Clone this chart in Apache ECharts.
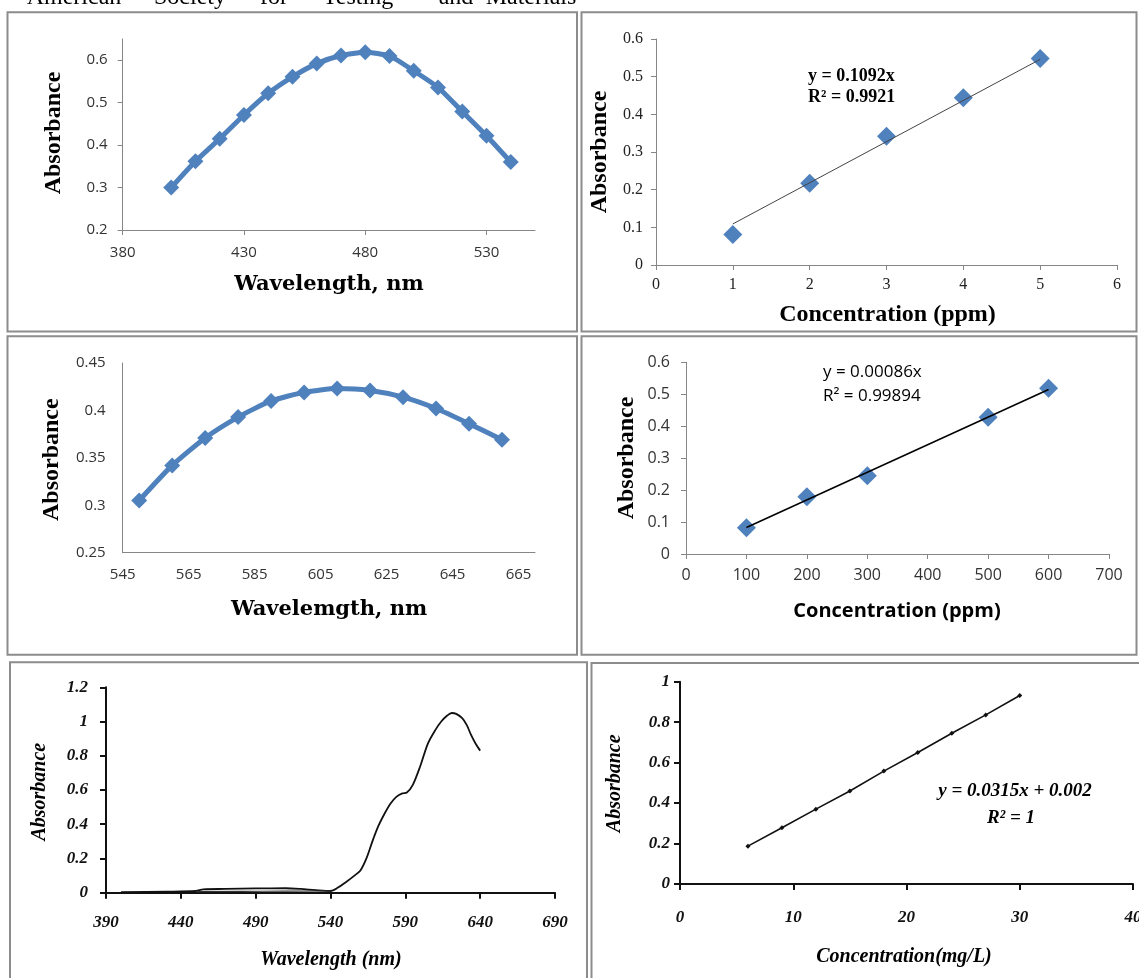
<!DOCTYPE html>
<html>
<head>
<meta charset="utf-8">
<title>Absorbance spectra and calibration curves</title>
<script src="https://cdn.jsdelivr.net/npm/echarts@6/dist/echarts.min.js"></script>
<style>
html, body { margin: 0; padding: 0; background: #fff; }
#main { width: 1139px; height: 978px; }
</style>
</head>
<body>
<div id="main"></div>
<script>
// ---- panel 1 : spectrum, 400-540 nm
var wl1 = [400, 410, 420, 430, 440, 450, 460, 470, 480, 490, 500, 510, 520, 530, 540];
var abs1 = [0.300, 0.362, 0.415, 0.471, 0.522, 0.561, 0.592, 0.611, 0.619, 0.610, 0.575, 0.536, 0.479, 0.422, 0.360];
var xTicks1 = [380, 430, 480, 530];
var yTicks1 = [0.2, 0.3, 0.4, 0.5, 0.6];

// ---- panel 2 : calibration (ppm)
var conc2 = [1, 2, 3, 4, 5];
var abs2 = [0.081, 0.217, 0.342, 0.444, 0.548];
var trend2 = [[1, 0.109], [5, 0.546]];
var xTicks2 = [0, 1, 2, 3, 4, 5, 6];
var yTicks2 = [0, 0.1, 0.2, 0.3, 0.4, 0.5, 0.6];

// ---- panel 3 : spectrum, 550-660 nm
var wl3 = [550, 560, 570, 580, 590, 600, 610, 620, 630, 640, 650, 660];
var abs3 = [0.305, 0.342, 0.371, 0.393, 0.410, 0.419, 0.423, 0.421, 0.414, 0.402, 0.386, 0.369];
var xTicks3 = [545, 565, 585, 605, 625, 645, 665];
var yTicks3 = [0.25, 0.3, 0.35, 0.4, 0.45];

// ---- panel 4 : calibration (ppm)
var conc4 = [100, 200, 300, 500, 600];
var abs4 = [0.082, 0.179, 0.245, 0.428, 0.519];
var trend4 = [[100, 0.083], [600, 0.515]];
var xTicks4 = [0, 100, 200, 300, 400, 500, 600, 700];
var yTicks4 = [0, 0.1, 0.2, 0.3, 0.4, 0.5, 0.6];

// ---- panel 5 : scanned spectrum
var wl5 = [400, 430, 450, 455, 470, 490, 510, 520, 530, 540, 545, 550, 556, 560, 564, 568, 572, 576, 580, 584, 588, 591, 595, 600, 605, 610, 614, 618, 621, 624, 628, 631, 634, 637, 640];
var abs5 = [0.003, 0.006, 0.010, 0.020, 0.022, 0.025, 0.026, 0.022, 0.015, 0.010, 0.030, 0.060, 0.100, 0.130, 0.200, 0.300, 0.390, 0.460, 0.520, 0.560, 0.580, 0.585, 0.630, 0.740, 0.870, 0.950, 1.000, 1.035, 1.050, 1.045, 1.020, 0.980, 0.920, 0.870, 0.830];
var wlBlank5 = [450, 480, 510, 540];
var absBlank5 = [0.006, 0.008, 0.009, 0.010];
var xTicks5 = [390, 440, 490, 540, 590, 640, 690];
var yTicks5 = [0, 0.2, 0.4, 0.6, 0.8, 1, 1.2];

// ---- panel 6 : calibration (mg/L)
var conc6 = [6, 9, 12, 15, 18, 21, 24, 27, 30];
var abs6 = [0.187, 0.278, 0.370, 0.460, 0.558, 0.650, 0.745, 0.836, 0.932];
var xTicks6 = [0, 10, 20, 30, 40];
var yTicks6 = [0, 0.2, 0.4, 0.6, 0.8, 1];

var serif = '"Liberation Serif", "Times New Roman", serif';
var cambria = '"DejaVu Serif", serif';
var sans = '"Open Sans", "Noto Sans", sans-serif';
var blue = '#4F81BD';
var gray = '#868686';

function pairs(xs, ys) {
	return xs.map(function (x, i) { return [x, ys[i]]; });
}

// one value axis, o holds the look of that panel
function valAxis(grid, min, max, interval, ticks, o) {
	return {
		type: 'value', gridIndex: grid, min: min, max: max, interval: interval,
		splitLine: { show: false },
		axisLine: { show: true, onZero: false, lineStyle: { color: o.color, width: o.width } },
		axisTick: {
			show: o.tick, inside: false, length: o.tickLen || 5, customValues: ticks,
			lineStyle: { color: o.color, width: o.width }
		},
		axisLabel: {
			customValues: ticks, margin: o.margin, color: o.labelColor,
			fontFamily: o.font, fontSize: o.size,
			fontWeight: o.weight || 'normal', fontStyle: o.style || 'normal',
			formatter: function (v) { return String(v); }
		}
	};
}

function txt(x, y, text, font, rot, align) {
	return {
		type: 'text', x: x, y: y, rotation: rot || 0, silent: true, z: 10,
		style: {
			text: text, font: font, fill: '#000',
			align: align || 'center', verticalAlign: 'middle',
			textAlign: align || 'center', textVerticalAlign: 'middle'
		}
	};
}

function box(x, y, w, h) {
	return {
		type: 'rect', silent: true, z: 0,
		shape: { x: x, y: y, width: w, height: h },
		style: { fill: 'none', stroke: '#8c8c8c', lineWidth: 2 }
	};
}

var excelSans = { color: gray, width: 1, tick: true, labelColor: '#333', font: sans, size: 15, margin: 15 };
var excelSansNoTick = Object.assign({}, excelSans, { tick: false });
var excelSerif = { color: gray, width: 1, tick: true, labelColor: '#222', font: serif, size: 16, margin: 13 };
var scanAxis = { color: '#111', width: 2, tick: true, tickLen: 6, labelColor: '#111', font: serif, size: 17, weight: 'bold', style: 'italic', margin: 18 };

var up = Math.PI / 2;

var option = {
	animation: false,
	backgroundColor: '#fff',
	grid: [
		{ left: 122.7, top: 39, width: 412.3, height: 191, outerBoundsMode: 'none', containLabel: false },
		{ left: 656, top: 39, width: 461, height: 226, outerBoundsMode: 'none', containLabel: false },
		{ left: 122.7, top: 363, width: 412.3, height: 189.7, outerBoundsMode: 'none', containLabel: false },
		{ left: 686, top: 362.3, width: 423, height: 191.7, outerBoundsMode: 'none', containLabel: false },
		{ left: 106, top: 687.3, width: 449, height: 205.4, outerBoundsMode: 'none', containLabel: false },
		{ left: 680, top: 681.7, width: 453, height: 202.3, outerBoundsMode: 'none', containLabel: false }
	],
	xAxis: [
		valAxis(0, 380, 550, 50, xTicks1, Object.assign({}, excelSans, { margin: 15 })),
		valAxis(1, 0, 6, 1, xTicks2, Object.assign({}, excelSerif, { margin: 12 })),
		valAxis(2, 545, 670, 20, xTicks3, Object.assign({}, excelSansNoTick, { margin: 15 })),
		valAxis(3, 0, 700, 100, xTicks4, Object.assign({}, excelSans, { size: 16, margin: 13 })),
		valAxis(4, 390, 690, 50, xTicks5, Object.assign({}, scanAxis, { margin: 21 })),
		valAxis(5, 0, 40, 10, xTicks6, Object.assign({}, scanAxis, { margin: 25 }))
	],
	yAxis: [
		valAxis(0, 0.2, 0.65, 0.1, yTicks1, excelSans),
		valAxis(1, 0, 0.6, 0.1, yTicks2, excelSerif),
		valAxis(2, 0.25, 0.45, 0.05, yTicks3, Object.assign({}, excelSansNoTick, { margin: 17 })),
		valAxis(3, 0, 0.6, 0.1, yTicks4, Object.assign({}, excelSans, { size: 16, margin: 16 })),
		valAxis(4, 0, 1.2, 0.2, yTicks5, Object.assign({}, scanAxis, { margin: 18 })),
		valAxis(5, 0, 1, 0.2, yTicks6, Object.assign({}, scanAxis, { margin: 10 }))
	],
	series: [
		{
			type: 'line', xAxisIndex: 0, yAxisIndex: 0, data: pairs(wl1, abs1),
			smooth: 0.2, symbol: 'diamond', symbolSize: 16,
			lineStyle: { color: blue, width: 5 }, itemStyle: { color: blue, opacity: 1 }
		},
		{
			type: 'scatter', xAxisIndex: 1, yAxisIndex: 1, data: pairs(conc2, abs2),
			symbol: 'diamond', symbolSize: 19, itemStyle: { color: blue, opacity: 1 }
		},
		{
			type: 'line', xAxisIndex: 1, yAxisIndex: 1, data: trend2, z: 5,
			symbol: 'none', lineStyle: { color: '#444', width: 1 }
		},
		{
			type: 'line', xAxisIndex: 2, yAxisIndex: 2, data: pairs(wl3, abs3),
			smooth: 0.2, symbol: 'diamond', symbolSize: 16,
			lineStyle: { color: blue, width: 5 }, itemStyle: { color: blue, opacity: 1 }
		},
		{
			type: 'scatter', xAxisIndex: 3, yAxisIndex: 3, data: pairs(conc4, abs4),
			symbol: 'diamond', symbolSize: 19, itemStyle: { color: blue, opacity: 1 }
		},
		{
			type: 'line', xAxisIndex: 3, yAxisIndex: 3, data: trend4, z: 5,
			symbol: 'none', lineStyle: { color: '#000', width: 1.5 }
		},
		{
			type: 'line', xAxisIndex: 4, yAxisIndex: 4, data: pairs(wl5, abs5),
			smooth: 0.3, symbol: 'none', lineStyle: { color: '#111', width: 1.8 }
		},
		{
			type: 'line', xAxisIndex: 4, yAxisIndex: 4, data: pairs(wlBlank5, absBlank5),
			smooth: true, symbol: 'none', lineStyle: { color: '#333', width: 1.2 }
		},
		{
			type: 'line', xAxisIndex: 5, yAxisIndex: 5, data: pairs(conc6, abs6),
			symbol: 'diamond', symbolSize: 5,
			lineStyle: { color: '#111', width: 1.6 }, itemStyle: { color: '#111' }
		}
	],
	graphic: [
		// cropped caption line at the very top
		txt(74, -2, 'American', '24px ' + serif),
		txt(190, -2, 'Society', '24px ' + serif),
		txt(274, -2, 'for', '24px ' + serif),
		txt(358, -2, 'Testing', '24px ' + serif),
		txt(456, -2, 'and', '24px ' + serif),
		txt(531, -2, 'Materials', '24px ' + serif),

		box(7.5, 12.3, 569.5, 319.2),
		box(581.5, 12.3, 555, 319.2),
		box(7.5, 336.3, 569.5, 318.4),
		box(581.5, 336.3, 555, 318.4),
		box(10, 662.3, 577, 330),
		box(591.5, 663, 560, 330),

		// panel 1
		txt(53.6, 133, 'Absorbance', 'bold 24px ' + serif, up),
		txt(329, 285, 'Wavelength, nm', 'bold 21px ' + cambria),
		// panel 2
		txt(599.5, 152, 'Absorbance', 'bold 24px ' + serif, up),
		txt(887.5, 315, 'Concentration (ppm)', 'bold 24px ' + serif),
		txt(808, 76, 'y = 0.1092x', 'bold 18px ' + serif, 0, 'left'),
		txt(808, 97, 'R\u00b2 = 0.9921', 'bold 18px ' + serif, 0, 'left'),
		// panel 3
		txt(51.8, 459.7, 'Absorbance', 'bold 24px ' + serif, up),
		txt(329, 609.7, 'Wavelemgth, nm', 'bold 21px ' + cambria),
		// panel 4
		txt(626.3, 458, 'Absorbance', 'bold 24px ' + serif, up),
		txt(897, 611.3, 'Concentration (ppm)', 'bold 20px ' + sans),
		txt(823, 372.3, 'y = 0.00086x', '17px ' + sans, 0, 'left'),
		txt(823, 396.3, 'R\u00b2 = 0.99894', '17px ' + sans, 0, 'left'),
		// panel 5
		txt(39.5, 791.7, 'Absorbance', 'italic bold 20px ' + serif, up),
		txt(331, 960, 'Wavelength (nm)', 'italic bold 20px ' + serif),
		// panel 6
		txt(614.4, 783.3, 'Absorbance', 'italic bold 20px ' + serif, up),
		txt(904, 956.7, 'Concentration(mg/L)', 'italic bold 20px ' + serif),
		txt(1015, 791, 'y = 0.0315x + 0.002', 'italic bold 19px ' + serif),
		txt(1011, 817.7, 'R\u00b2 = 1', 'italic bold 19px ' + serif)
	]
};

var chart = echarts.init(document.getElementById('main'));
chart.setOption(option);
</script>
</body>
</html>
